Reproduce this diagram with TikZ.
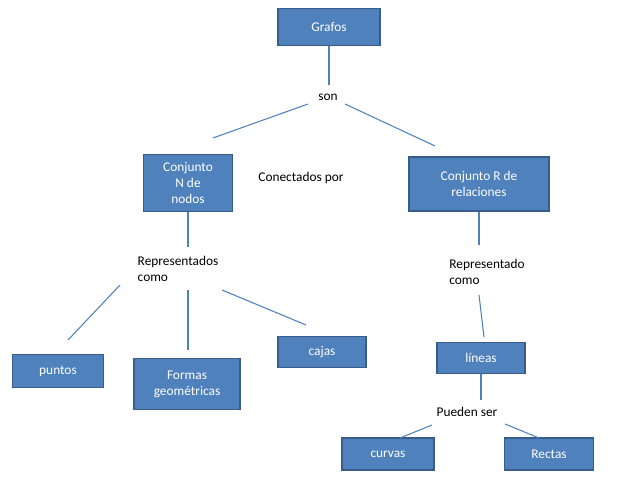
\documentclass[tikz,border=0pt]{standalone}
\usepackage{fontspec}
\setmainfont{Carlito}
\definecolor{boxfill}{RGB}{79,129,189}
\definecolor{boxline}{RGB}{56,93,138}
\begin{document}
\begin{tikzpicture}[x=0.02cm,y=-0.02cm,
  box/.style={draw=boxline,line width=0.8pt,fill=boxfill,text=white,align=center,font=\fontsize{7.6}{9.2}\selectfont,inner sep=0pt},
  lbl/.style={align=left,font=\fontsize{7.6}{9.2}\selectfont,inner sep=0pt},
  conn/.style={draw=boxfill,line width=0.6pt}]
\useasboundingbox (0,0) rectangle (638,479);
\node[box,minimum width=102*0.02cm,minimum height=37*0.02cm] (grafos) at (329,27) {Grafos};
\node[lbl] (son) at (328,97) {son};
\node[box,minimum width=89*0.02cm,minimum height=57*0.02cm] (cn) at (188,183) {Conjunto\\N de\\nodos};
\node[lbl] (con) at (301,178) {Conectados por};
\node[box,minimum width=140*0.02cm,minimum height=54*0.02cm] (cr) at (479,184) {Conjunto R de\\relaciones};
\node[lbl] (rep1) at (178,269) {Representados\\como};
\node[lbl] (rep2) at (487,272) {Representado\\como};
\node[box,minimum width=91*0.02cm,minimum height=33*0.02cm] (puntos) at (58,371) {puntos};
\node[box,minimum width=106*0.02cm,minimum height=51*0.02cm] (formas) at (187,384) {Formas\\geométricas};
\node[box,minimum width=88*0.02cm,minimum height=31*0.02cm] (cajas) at (322,352) {cajas};
\node[box,minimum width=88*0.02cm,minimum height=31*0.02cm] (lineas) at (481,358) {líneas};
\node[lbl] (pueden) at (467,412) {Pueden ser};
\node[box,minimum width=92*0.02cm,minimum height=32*0.02cm] (curvas) at (388,454) {curvas};
\node[box,minimum width=89*0.02cm,minimum height=32*0.02cm] (rectas) at (549,454) {Rectas};
\coordinate (a1) at (329,85);
\coordinate (s1) at (308,104); \coordinate (s2) at (213,138);
\coordinate (s3) at (345,104); \coordinate (s4) at (435,146);
\coordinate (n1) at (188,247); \coordinate (r1) at (479,245);
\coordinate (p1) at (120,285); \coordinate (p2) at (68,340);
\coordinate (f1) at (188,290); \coordinate (f2) at (188,350);
\coordinate (c1) at (222,290); \coordinate (c2) at (306,325);
\coordinate (l1) at (479,295); \coordinate (l2) at (484,337);
\coordinate (l3) at (481,400);
\coordinate (q1) at (432,425); \coordinate (q2) at (400,438);
\coordinate (q3) at (505,424); \coordinate (q4) at (539,438);
\draw[conn] (grafos.south) -- (a1);
\draw[conn] (s1) -- (s2);
\draw[conn] (s3) -- (s4);
\draw[conn] (cn.south) -- (n1);
\draw[conn] (cr.south) -- (r1);
\draw[conn] (p1) -- (p2);
\draw[conn] (f1) -- (f2);
\draw[conn] (c1) -- (c2);
\draw[conn] (l1) -- (l2);
\draw[conn] (lineas.south) -- (l3);
\draw[conn] (q1) -- (q2);
\draw[conn] (q3) -- (q4);
\end{tikzpicture}
\end{document}
